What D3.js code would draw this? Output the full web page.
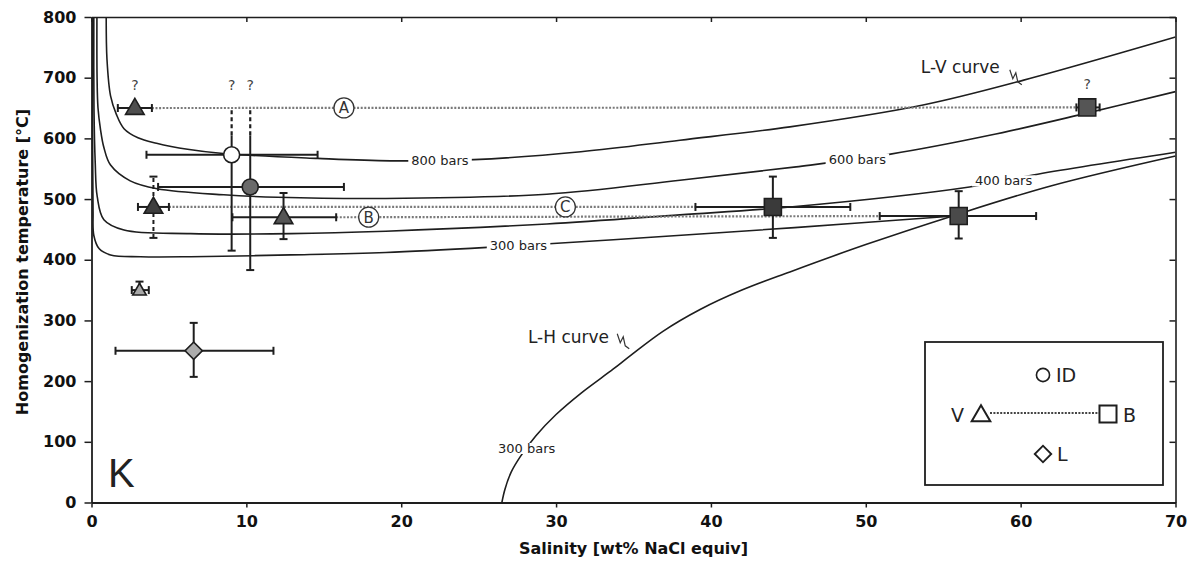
<!DOCTYPE html>
<html>
<head>
<meta charset="utf-8">
<script src="https://cdn.jsdelivr.net/npm/d3@7"></script>
<style>
  html, body { margin: 0; padding: 0; background: #fff; }
  svg { display: block; }
</style>
</head>
<body>
<svg id="chart" width="1198" height="573"></svg>
<script>
// ---- Axis ticks ----
const salinityTicks = [0, 10, 20, 30, 40, 50, 60, 70];
const temperatureTicks = [0, 100, 200, 300, 400, 500, 600, 700, 800];

// ---- Fluid-inclusion assemblages (salinity in wt% NaCl equiv, Th in °C) ----
const inclusionType = ["V", "ID", "ID", "V", "V", "V", "L", "B", "B", "B"];
const salinity      = [2.8, 9.05, 10.25, 4.0, 12.4, 3.1, 6.6, 44.0, 56.0, 64.3];
const salinityLow   = [1.7, 3.55, 4.3, 3.0, 9.1, 2.6, 1.55, 39.0, 50.9, 63.6];
const salinityHigh  = [3.9, 14.6, 16.3, 5.0, 15.8, 3.7, 11.75, 49.0, 61.0, 65.1];
const homogTemp     = [650, 573, 520, 487, 470, 350, 250, 487, 472, 651];
const homogLow      = [null, 415, 383, 436, 434, 345, 207, 436, 435, null];
const homogHigh     = [null, 605, 605, 537, 510, 364, 296, 537, 513, null];
// uncertain upper limit of Th, drawn as a dashed extension
const homogQueried  = [null, 650, 650, null, null, null, null, null, null, null];
const thUncertain   = [false, false, false, true, false, false, false, false, false, false];
const queried       = [true, true, true, false, false, false, false, false, false, true];

// ---- Coexisting vapour (V) – brine (B) pairs ----
const tieLabels = ["A", "B", "C"];
const tieVapour = [0, 4, 3];
const tieBrine  = [9, 8, 7];
const tieLabelSalinity = [16.3, 17.9, 30.6];

// ---- Isobaric Th curves [salinity, temperature] ----
const isobar800 = [[0.95,800],[1.0,730],[1.23,670],[1.6,640],[2.1,616],[3.0,601],[4.2,592],[6.2,582],[8.5,575],[14.6,567],[19.3,563],[24.7,565],[31.6,578],[38,597],[45.1,619],[53.7,655],[60.2,696],[70,767]];
const isobar600 = [[0.35,800],[0.36,700],[0.42,650],[0.58,615],[0.8,585],[1.23,556],[2.5,530],[4.24,517],[8.54,507],[12,503],[19,501],[29.4,508],[38,531],[45.5,553],[51.6,574],[58,605],[64,640],[70,677]];
const isobar400 = [[0.15,800],[0.16,650],[0.24,560],[0.37,504],[0.8,466],[2.1,449],[6.4,443],[12.85,443],[19,447],[29.4,459],[38,474],[45.1,487],[56.7,520],[61.1,541],[70,577]];
const isobar300 = [[0.06,800],[0.07,600],[0.1,480],[0.15,440],[0.5,418],[1.23,408],[3.16,405],[6.4,405],[12.85,408],[19,412],[26,421],[33.7,433],[45.4,453],[55.7,472]];
// liquid–halite curve at 300 bars
const haliteCurve = [[26.5,0],[26.7,22],[27.1,50],[27.7,76],[28.7,110],[30.0,145],[31.6,180],[33.7,220],[34.8,242],[36.9,282],[39.3,318],[42,350],[45.1,380],[50,425],[55.45,471],[62,522],[70,571]];

// ---- Layout ----
const svg = d3.select("#chart");
const x = d3.scaleLinear().domain([0, 70]).range([91.5, 1175.5]);
const y = d3.scaleLinear().domain([0, 800]).range([502.5, 17]);
const FONT = "'DejaVu Sans', sans-serif";
const INK = "#1e1e1e";

svg.append("rect").attr("width", 1198).attr("height", 573).attr("fill", "#fff");

svg.append("defs").append("clipPath").attr("id", "plot-clip")
  .append("rect")
  .attr("x", x(0)).attr("y", y(800))
  .attr("width", x(70) - x(0)).attr("height", y(0) - y(800));

// ---- Axes ----
function styleAxis(g, width) {
  g.select(".domain").attr("stroke", INK).attr("stroke-width", width);
  g.selectAll(".tick line").attr("stroke", INK).attr("stroke-width", 1.5);
  g.selectAll(".tick text")
    .attr("fill", "#111").attr("font-family", FONT)
    .attr("font-weight", "bold").attr("font-size", 16);
}

svg.append("g").attr("transform", `translate(0,${y(800)})`)
  .call(d3.axisTop(x).tickValues(salinityTicks).tickSize(-5).tickSizeOuter(0).tickFormat(""))
  .call(g => styleAxis(g, 1.6));
svg.append("g").attr("transform", `translate(${x(70)},0)`)
  .call(d3.axisRight(y).tickValues(temperatureTicks).tickSize(-6).tickSizeOuter(0).tickFormat(""))
  .call(g => styleAxis(g, 1.6));
svg.append("g").attr("transform", `translate(${x(0)},0)`)
  .call(d3.axisLeft(y).tickValues(temperatureTicks).tickSize(7).tickPadding(8).tickSizeOuter(0))
  .call(g => styleAxis(g, 1.8));
svg.append("g").attr("transform", `translate(0,${y(0)})`)
  .call(d3.axisBottom(x).tickValues(salinityTicks).tickSize(5).tickPadding(8).tickSizeOuter(0))
  .call(g => styleAxis(g, 1.8));

svg.append("text")
  .attr("transform", `translate(22,262) rotate(-90)`)
  .attr("text-anchor", "middle").attr("dominant-baseline", "central")
  .attr("font-family", FONT).attr("font-weight", "bold").attr("font-size", 16)
  .attr("fill", "#111")
  .text("Homogenization temperature [°C]");

svg.append("text")
  .attr("x", (x(0) + x(70)) / 2).attr("y", 554)
  .attr("text-anchor", "middle")
  .attr("font-family", FONT).attr("font-weight", "bold").attr("font-size", 16)
  .attr("fill", "#111")
  .text("Salinity [wt% NaCl equiv]");

// ---- Isobars and L-H curve ----
const curveLine = d3.line()
  .x(d => x(d[0])).y(d => y(d[1]))
  .curve(d3.curveCatmullRom.alpha(0.5));

const curves = svg.append("g").attr("clip-path", "url(#plot-clip)");
[isobar800, isobar600, isobar400, isobar300, haliteCurve].forEach(c => {
  curves.append("path").datum(c)
    .attr("d", curveLine)
    .attr("fill", "none").attr("stroke", INK).attr("stroke-width", 1.6);
});

// Curve labels sit in a white gap cut out of the line
function curveLabel(text, s, t, size) {
  const g = svg.append("g");
  const txt = g.append("text")
    .attr("x", x(s)).attr("y", y(t))
    .attr("text-anchor", "middle").attr("dominant-baseline", "central")
    .attr("font-family", FONT).attr("font-size", size).attr("fill", "#222")
    .text(text);
  const b = txt.node().getBBox();
  g.insert("rect", "text")
    .attr("x", b.x - 3).attr("y", b.y + 2)
    .attr("width", b.width + 6).attr("height", b.height - 4)
    .attr("fill", "#fff");
}
curveLabel("800 bars", 22.5, 563, 13);
curveLabel("600 bars", 49.45, 566, 13);
curveLabel("400 bars", 58.9, 530, 13);
curveLabel("300 bars", 27.57, 423, 13);
curveLabel("300 bars", 28.1, 89, 13);

// Curve names with a small zigzag leader
function curveName(text, s, t, leaderS, leaderT) {
  svg.append("text")
    .attr("x", x(s)).attr("y", y(t))
    .attr("text-anchor", "middle").attr("dominant-baseline", "central")
    .attr("font-family", FONT).attr("font-size", 17).attr("fill", "#222")
    .text(text);
  const lx = x(leaderS), ly = y(leaderT);
  svg.append("path")
    .attr("d", `M${lx},${ly} l3,9 l3,-6 l2,9 l4,3`)
    .attr("fill", "none").attr("stroke", "#333").attr("stroke-width", 1.2);
}
curveName("L-V curve", 56.1, 718, 59.3, 713);
curveName("L-H curve", 30.8, 273, 33.95, 278);

// ---- V–B tie lines ----
const tieG = svg.append("g");
tieLabels.forEach((lab, k) => {
  const v = tieVapour[k], b = tieBrine[k];
  tieG.append("line")
    .attr("x1", x(salinityHigh[v])).attr("y1", y(homogTemp[v]))
    .attr("x2", x(salinityLow[b])).attr("y2", y(homogTemp[b]))
    .attr("stroke", "#7a7a7a").attr("stroke-width", 2.2)
    .attr("stroke-dasharray", "2 1.6");
});

// ---- Error bars ----
const errG = svg.append("g").attr("stroke", INK).attr("stroke-width", 2).attr("fill", "none");
const CAP = 4;
salinity.forEach((s, i) => {
  const cx = x(s), cy = y(homogTemp[i]);
  // horizontal (salinity) range
  const x0 = x(salinityLow[i]), x1 = x(salinityHigh[i]);
  errG.append("line").attr("x1", x0).attr("x2", x1).attr("y1", cy).attr("y2", cy);
  errG.append("line").attr("x1", x0).attr("x2", x0).attr("y1", cy - CAP).attr("y2", cy + CAP);
  errG.append("line").attr("x1", x1).attr("x2", x1).attr("y1", cy - CAP).attr("y2", cy + CAP);
  // vertical (Th) range
  if (homogLow[i] !== null) {
    const y0 = y(homogLow[i]), y1 = y(homogHigh[i]);
    const v = errG.append("line").attr("x1", cx).attr("x2", cx).attr("y1", y0).attr("y2", y1);
    if (thUncertain[i]) v.attr("stroke-dasharray", "4 3");
    errG.append("line").attr("x1", cx - CAP).attr("x2", cx + CAP).attr("y1", y0).attr("y2", y0);
    if (homogQueried[i] === null) {
      errG.append("line").attr("x1", cx - CAP).attr("x2", cx + CAP).attr("y1", y1).attr("y2", y1);
    } else {
      errG.append("line")
        .attr("x1", cx).attr("x2", cx)
        .attr("y1", y1).attr("y2", y(homogQueried[i]))
        .attr("stroke-dasharray", "4 3").attr("stroke-width", 2.2);
    }
  }
});

// ---- Circled tie-line letters ----
tieLabels.forEach((lab, k) => {
  const v = tieVapour[k], b = tieBrine[k];
  const s = tieLabelSalinity[k];
  const f = (s - salinityHigh[v]) / (salinityLow[b] - salinityHigh[v]);
  const t = homogTemp[v] + f * (homogTemp[b] - homogTemp[v]);
  svg.append("circle").attr("cx", x(s)).attr("cy", y(t)).attr("r", 10)
    .attr("fill", "#fff").attr("stroke", "#333").attr("stroke-width", 1.3);
  svg.append("text").attr("x", x(s)).attr("y", y(t) + 0.5)
    .attr("text-anchor", "middle").attr("dominant-baseline", "central")
    .attr("font-family", FONT).attr("font-size", 15).attr("fill", "#333")
    .text(lab);
});

// ---- Markers ----
const markerFill = ["#4e4e4e", "#ffffff", "#6a6a6a", "#3e3e3e", "#555555", "#a8a8a8", "#acacac", "#3a3a3a", "#4a4a4a", "#555555"];
const symbolFor = {
  V: d3.symbol().type(d3.symbolTriangle).size(150)(),
  ID: d3.symbol().type(d3.symbolCircle).size(Math.PI * 64)(),
  B: d3.symbol().type(d3.symbolSquare).size(290)(),
  L: d3.symbol().type(d3.symbolSquare).size(150)()
};
function markerPath(type, small) {
  if (type === "V" && small) return d3.symbol().type(d3.symbolTriangle).size(80)();
  return symbolFor[type];
}
const markG = svg.append("g");
salinity.forEach((s, i) => {
  const type = inclusionType[i];
  const small = i === 5;
  markG.append("path")
    .attr("d", markerPath(type, small))
    .attr("transform", `translate(${x(s)},${y(homogTemp[i]) + (type === "V" ? 1 : 0)})` + (type === "L" ? " rotate(45)" : ""))
    .attr("fill", markerFill[i]).attr("stroke", INK).attr("stroke-width", 1.6);
  if (queried[i]) {
    // the query mark sits above the highest (uncertain) Th reached
    const topT = homogQueried[i] !== null ? homogQueried[i] : homogTemp[i];
    svg.append("text").attr("x", x(s)).attr("y", y(topT) - 18)
      .attr("text-anchor", "middle")
      .attr("font-family", FONT).attr("font-size", 14).attr("fill", "#444")
      .text("?");
  }
});

// Panel letter
svg.append("text").attr("x", 108).attr("y", 487)
  .attr("font-family", "'Liberation Sans', Arial, sans-serif").attr("font-size", 40).attr("fill", "#222")
  .text("K");

// ---- Legend ----
const lg = svg.append("g");
lg.append("rect").attr("x", 925).attr("y", 342).attr("width", 238).attr("height", 143)
  .attr("fill", "#fff").attr("stroke", INK).attr("stroke-width", 1.8);
lg.append("line").attr("x1", 990).attr("x2", 1099).attr("y1", 413).attr("y2", 413)
  .attr("stroke", "#444").attr("stroke-width", 2).attr("stroke-dasharray", "2 1.4");
lg.append("path").attr("d", symbolFor.ID).attr("transform", "translate(1043,375) scale(0.82)")
  .attr("fill", "#fff").attr("stroke", INK).attr("stroke-width", 2);
lg.append("path").attr("d", symbolFor.V).attr("transform", "translate(981,416)")
  .attr("fill", "#fff").attr("stroke", INK).attr("stroke-width", 2);
lg.append("path").attr("d", symbolFor.B).attr("transform", "translate(1108,414)")
  .attr("fill", "#fff").attr("stroke", INK).attr("stroke-width", 2);
lg.append("path").attr("d", symbolFor.L).attr("transform", "translate(1043,454) rotate(45) scale(0.95)")
  .attr("fill", "#fff").attr("stroke", INK).attr("stroke-width", 2);
const legendText = [["ID", 1056, 382, "start"], ["V", 964, 422, "end"], ["B", 1123, 422, "start"], ["L", 1057, 461, "start"]];
legendText.forEach(([t, lx, ly, anchor]) => {
  lg.append("text").attr("x", lx).attr("y", ly).attr("text-anchor", anchor)
    .attr("font-family", FONT).attr("font-size", 19).attr("fill", "#222")
    .text(t);
});
</script>
</body>
</html>
